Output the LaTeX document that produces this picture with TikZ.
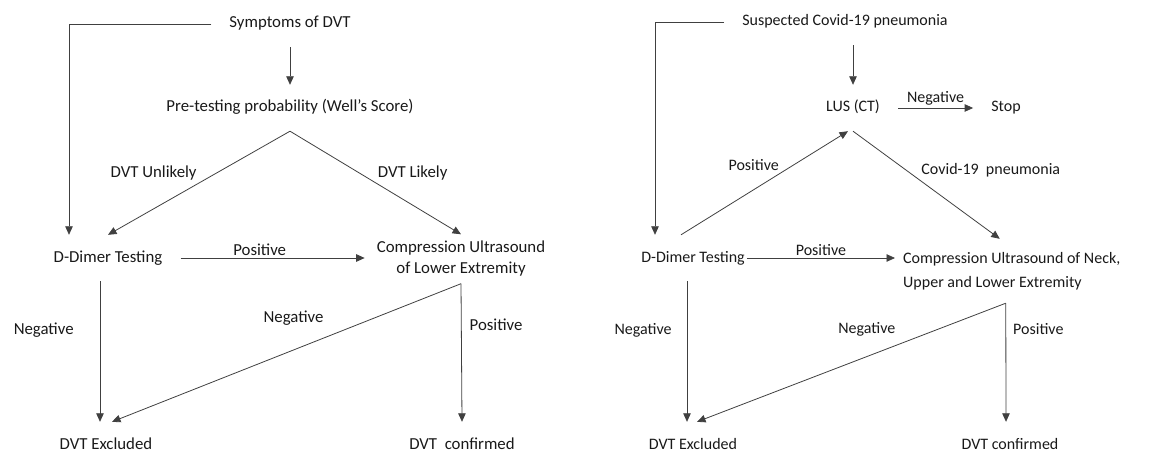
\documentclass[tikz,border=0pt]{standalone}
\usepackage{fontspec}
\setmainfont{Carlito}
\usetikzlibrary{arrows.meta}

\begin{document}
\begin{tikzpicture}[x=1pt,y=-1pt,
        flow/.style={draw=black!75,line width=0.8pt},
        >={Triangle[length=8.5pt,width=7.5pt]}]
        \useasboundingbox (0,0) rectangle (1174,454);

        % left: symptoms of DVT
        \begin{scope}[every node/.style={inner xsep=18pt,inner ysep=15pt,text height=12pt,text depth=4pt,
            text=black!90,font=\fontsize{16.8}{21}\selectfont}]
            \node (A) at (290,24) {Symptoms of DVT};
            \node (B) at (290,108) {Pre-testing probability (Well's Score)};
            \node (C) at (108,258) {D-Dimer Testing};
            \node[align=center,inner xsep=12pt,inner ysep=6pt,text height=33pt] (D) at (461,259) {Compression Ultrasound\\of Lower Extremity};
            \node (E) at (106,445) {DVT Excluded};
            \node (F) at (462,445) {DVT~ confirmed};
        \end{scope}

        \begin{scope}[every node/.style={inner sep=2pt,text=black!90,font=\fontsize{16.8}{21}\selectfont},
            every edge/.style={flow}]
            \path [->] (A) edge (B);
            \path [->] (B.south) edge node[above left]{DVT Unlikely} (C.north);
            \path [->] (B.south) edge node[above right]{DVT Likely} (D.north);
            \path [->] (C) edge node[above,pos=.43]{Positive} (C -| D.west);
            \path [->] ([xshift=-8pt]C.south) edge node[left=24pt,pos=.35]{Negative} ([xshift=-6pt]E.north);
            \path [->] (D.south) edge node[above=22pt,pos=.48]{Negative} ([xshift=6pt]E.north);
            \path [->] (D.south) edge node[right=6pt,pos=.3]{Positive} (F.north);
        \end{scope}
        \draw [->,flow] (A.west) -| ([xshift=-39pt]C.north);

        % right: suspected Covid-19 pneumonia
        \begin{scope}[every node/.style={inner xsep=18pt,inner ysep=15pt,text height=12pt,text depth=4pt,
            text=black!90,font=\fontsize{16}{24}\selectfont}]
            \node (G) at (845,22) {Suspected Covid-19 pneumonia};
            \node (H) at (853,108) {LUS (CT)};
            \node (I) at (1006,108) {Stop};
            \node[inner xsep=2pt] (J) at (693,258) {D-Dimer Testing};
            \node[align=left,anchor=west,inner xsep=8pt,inner ysep=12pt,text height=36pt] (K) at (895,271) {Compression Ultrasound of Neck,\\Upper and Lower Extremity};
            \node (L) at (693,445) {DVT Excluded};
            \node (M) at (1010,445) {DVT confirmed};
        \end{scope}

        \begin{scope}[every node/.style={inner sep=2pt,text=black!90,font=\fontsize{16}{24}\selectfont},
            every edge/.style={flow}]
            \path [->] (G.south -| H) edge (H);
            \path [->] (H) edge node[above]{Negative} (I);
            \path [->] ([xshift=-12pt]J.north) edge node[above left,pos=.6]{Positive} ([xshift=-5pt]H.south);
            \path [->] (H.south) edge node[above right,pos=.45]{Covid-19~ pneumonia} ([xshift=-12pt]K.north);
            \path [->] (J) edge node[above]{Positive} (J -| K.west);
            \path [->] ([xshift=-6pt]J.south) edge node[left=13pt,pos=.35]{Negative} ([xshift=-6pt]L.north);
            \path [->] ([xshift=-6pt]K.south) edge node[above=18pt,pos=.45]{Negative} ([xshift=4pt]L.north);
            \path [->] ([xshift=-6pt]K.south) edge node[right=5pt,pos=.22]{Positive} ([xshift=-4pt]M.north);
        \end{scope}
        \draw [->,flow] (G.west) -| ([xshift=-38pt]J.north);
    \end{tikzpicture}
\end{document}
